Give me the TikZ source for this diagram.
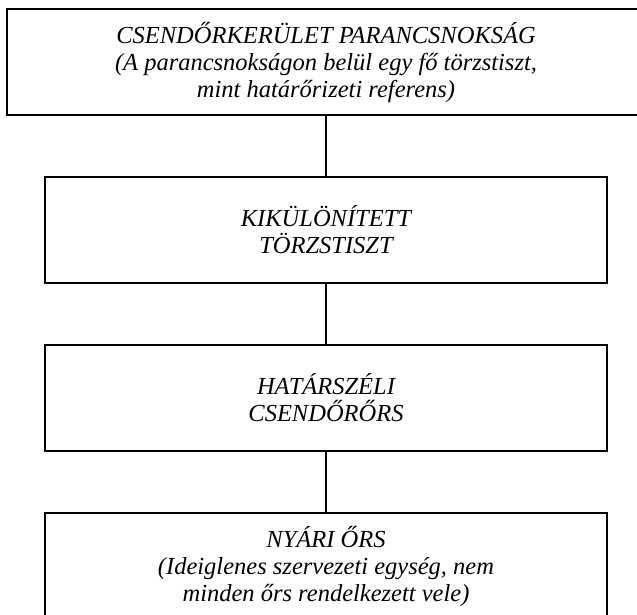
\documentclass[tikz,border=0pt]{standalone}
\usepackage{fontspec}
\setmainfont{Liberation Serif}
\begin{document}
\begin{tikzpicture}[x=1pt,y=-1pt,
		doboz/.style={draw, line width=1.6pt, minimum height=106pt, inner sep=0pt, align=center, font=\itshape\fontsize{24.5}{27}\selectfont},
		kapcsolo/.style={line width=1.6pt}]
		\useasboundingbox (0,0) rectangle (637,614);
		\node[doboz, minimum width=638pt] (parancs) at (326,62) {CSENDŐRKERÜLET PARANCSNOKSÁG\\(A parancsnokságon belül egy fő törzstiszt,\\mint határőrizeti referens)};
		\node[doboz, minimum width=562pt] (torzs) at (326,230) {KIKÜLÖNÍTETT\\TÖRZSTISZT};
		\node[doboz, minimum width=562pt] (hatar) at (326,398) {HATÁRSZÉLI\\CSENDŐRŐRS};
		\node[doboz, minimum width=562pt] (nyari) at (326,566) {NYÁRI ŐRS\\(Ideiglenes szervezeti egység, nem\\minden őrs rendelkezett vele)};
		\draw[kapcsolo] (parancs) -- (torzs);
		\draw[kapcsolo] (torzs) -- (hatar);
		\draw[kapcsolo] (hatar) -- (nyari);
	\end{tikzpicture}
\end{document}
